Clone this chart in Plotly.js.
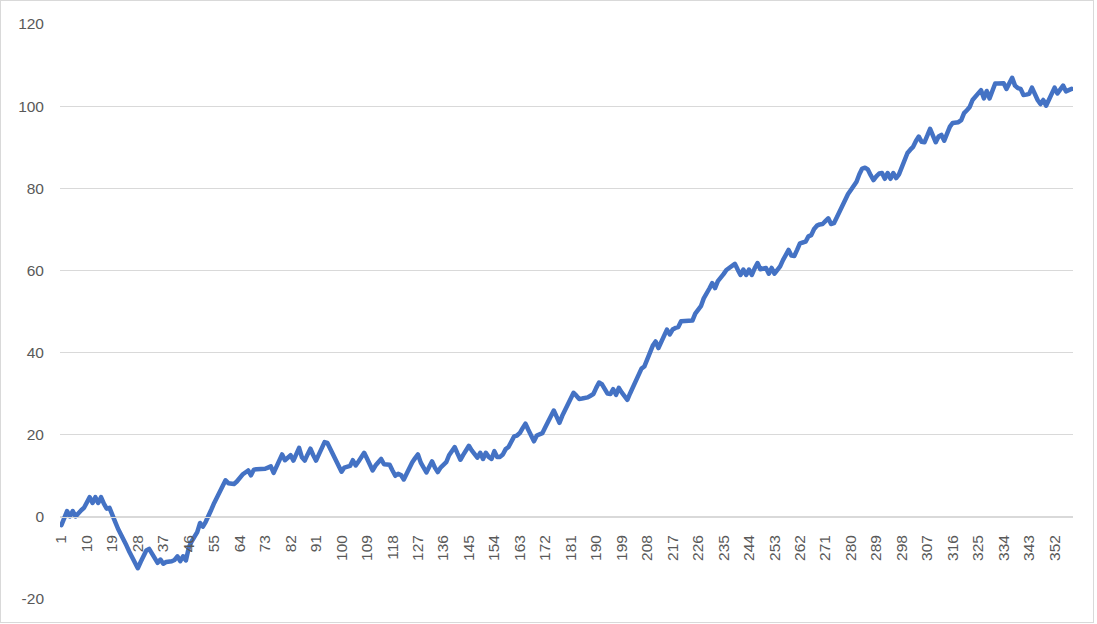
<!DOCTYPE html>
<html>
<head>
<meta charset="utf-8">
<script src="https://cdn.plot.ly/plotly-3.0.1.min.js"></script>
<style>
  body { margin: 0; background: #fff; }
  #wrap { position: relative; width: 1097px; height: 624px; }
  #gd { width: 1097px; height: 624px; }
  #frame {
    position: absolute; left: 0; top: 0; width: 1094px; height: 623px;
    box-sizing: border-box; border: 1px solid #d9d9d9; pointer-events: none;
  }
  #gd path.js-line { stroke-linejoin: round; stroke-linecap: round; }
</style>
</head>
<body>
<div id="wrap">
  <div id="gd"></div>
  <div id="frame"></div>
</div>
<script>
// series values, one per category (1..358)
const values = [
  -2.0, -0.2, 1.4, 0.1, 1.4, 0.1, 1.0, 1.6, 2.2, 3.4,
  4.8, 3.4, 4.8, 3.4, 4.8, 3.2, 2.0, 2.2, 0.2, -1.2,
  -2.9, -4.1, -5.8, -7.0, -8.5, -9.7, -11.2, -12.5, -11.0, -9.5,
  -8.2, -7.8, -8.8, -10.0, -11.2, -10.4, -11.4, -11.0, -11.0, -10.8,
  -10.5, -9.6, -10.8, -9.6, -10.6, -7.5, -6.0, -4.8, -3.7, -1.5,
  -2.4, -1.2, 0.1, 1.8, 3.4, 4.8, 6.2, 7.4, 8.9, 8.2,
  8.0, 8.0, 8.6, 9.6, 10.3, 10.8, 11.3, 10.1, 11.5, 11.6,
  11.6, 11.6, 11.7, 12.0, 12.3, 10.7, 12.3, 13.8, 15.2, 13.8,
  14.5, 15.0, 13.7, 15.5, 16.8, 14.5, 13.7, 15.2, 16.6, 15.0,
  13.7, 15.2, 16.8, 18.2, 18.0, 16.6, 15.2, 13.9, 12.4, 11.0,
  12.0, 12.3, 12.4, 13.8, 12.5, 13.5, 14.6, 15.6, 14.2, 12.6,
  11.3, 12.5, 13.2, 14.1, 12.8, 12.7, 12.7, 11.3, 10.0, 10.5,
  10.2, 9.1, 10.6, 12.0, 13.3, 14.3, 15.2, 13.2, 12.0, 10.8,
  12.2, 13.5, 12.0, 10.9, 12.0, 12.6, 13.3, 15.0, 16.0, 17.0,
  15.4, 13.9, 15.1, 16.4, 17.3, 16.2, 15.2, 14.4, 15.6, 14.1,
  15.6, 14.6, 14.1, 16.0, 14.6, 14.6, 15.2, 16.5, 17.0, 18.5,
  19.6, 19.8, 20.4, 21.6, 22.7, 21.2, 19.8, 18.4, 19.8, 20.1,
  20.4, 21.8, 23.3, 24.6, 25.9, 24.4, 22.9, 24.6, 26.1, 27.6,
  28.8, 30.2, 29.5, 28.7, 28.8, 28.9, 29.1, 29.5, 29.9, 31.4,
  32.7, 32.3, 31.0, 30.0, 29.9, 31.1, 29.7, 31.4, 30.3, 29.2,
  28.5, 30.1, 31.6, 33.0, 34.5, 36.1, 36.6, 38.6, 40.0, 41.7,
  42.7, 41.1, 42.6, 44.2, 45.6, 44.4, 45.6, 46.0, 46.2, 47.6,
  47.6, 47.6, 47.6, 47.8, 49.5, 50.6, 51.3, 53.2, 54.2, 55.6,
  56.9, 55.7, 57.4, 58.5, 59.1, 60.1, 60.5, 61.0, 61.6, 60.2,
  58.9, 60.2, 58.9, 60.2, 58.9, 60.5, 61.8, 60.3, 60.5, 60.6,
  59.2, 60.6, 59.2, 60.0, 61.0, 62.5, 63.8, 65.0, 63.6, 63.5,
  65.0, 66.6, 66.8, 67.0, 68.3, 68.6, 70.1, 70.9, 71.2, 71.3,
  72.0, 72.7, 71.3, 71.5, 72.9, 74.4, 76.0, 77.6, 78.6, 79.6,
  80.6, 81.6, 83.4, 84.8, 85.0, 84.6, 83.2, 82.0, 82.9, 83.6,
  83.7, 82.3, 83.7, 82.3, 83.7, 82.5, 83.4, 85.0, 86.7, 88.6,
  89.4, 90.1, 91.5, 92.6, 91.3, 91.2, 92.8, 94.5, 92.8, 91.2,
  92.6, 93.0, 91.6, 93.3, 95.0, 95.9, 96.0, 96.1, 96.6, 98.3,
  99.0, 99.8, 101.5, 102.2, 103.0, 103.9, 101.9, 103.7, 101.9, 103.6,
  105.5, 105.5, 105.6, 105.6, 104.2, 105.6, 106.9, 105.0, 104.4, 104.2,
  102.7, 102.8, 103.0, 104.5, 102.9, 101.5, 100.5, 101.5, 100.1, 101.4,
  102.8, 104.5, 103.1, 104.3, 105.0, 103.6, 103.8, 104.2
];

// category numbers 1..N
const categories = values.map((v, i) => i + 1);

// labelled categories on the x axis
const tickLabels = [1, 10, 19, 28, 37, 46, 55, 64, 73, 82, 91, 100, 109, 118, 127,
  136, 145, 154, 163, 172, 181, 190, 199, 208, 217, 226, 235, 244, 253, 262,
  271, 280, 289, 298, 307, 316, 325, 334, 343, 352];

const yTicks = [-20, 0, 20, 40, 60, 80, 100, 120];

const labelFont = { family: 'Liberation Sans, Arial, sans-serif', size: 15.5, color: '#595959' };

const trace = {
  x: categories,
  y: values,
  type: 'scatter',
  mode: 'lines',
  line: { color: '#4472C4', width: 4.5 },
  hoverinfo: 'x+y'
};

const yMin = -20, yMax = 120;

const layout = {
  width: 1097,
  height: 624,
  margin: { l: 60, r: 24, t: 24, b: 25, pad: 0 },
  paper_bgcolor: '#ffffff',
  plot_bgcolor: '#ffffff',
  showlegend: false,
  xaxis: {
    range: [0.5, values.length + 0.5],
    anchor: 'free',
    position: (0 - yMin) / (yMax - yMin),
    showgrid: false,
    zeroline: false,
    showline: true,
    linecolor: '#d9d9d9',
    linewidth: 1,
    ticks: '',
    tickmode: 'array',
    tickvals: tickLabels,
    ticktext: tickLabels.map(String),
    tickangle: -90,
    ticklabelstandoff: 11,
    tickfont: labelFont
  },
  yaxis: {
    range: [yMin, yMax],
    tickmode: 'array',
    tickvals: yTicks,
    ticktext: yTicks.map(String),
    showgrid: true,
    gridcolor: '#d9d9d9',
    gridwidth: 1,
    zeroline: false,
    showline: false,
    ticks: '',
    ticklabelstandoff: 15,
    tickfont: labelFont
  }
};

Plotly.newPlot('gd', [trace], layout, { staticPlot: true, displayModeBar: false });
</script>
</body>
</html>
